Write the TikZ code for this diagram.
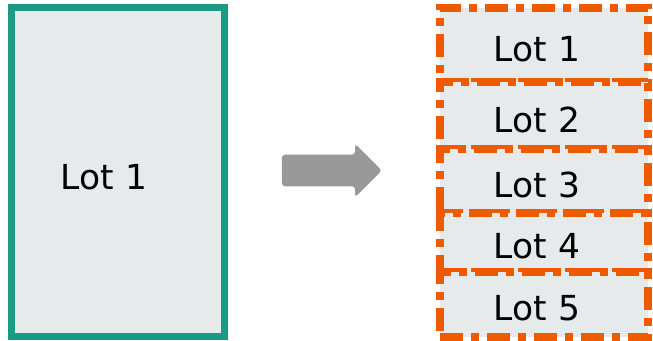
\documentclass[tikz,border=0pt]{standalone}
\usepackage{fontspec}
\setmainfont{DejaVu Sans}
\usetikzlibrary{shapes.arrows}
\definecolor{lotgreen}{HTML}{1A9B86}
\definecolor{lotorange}{HTML}{EE5A00}
\definecolor{lotfill}{HTML}{E7EAEB}
\definecolor{arrowgray}{HTML}{999999}
\begin{document}
\begin{tikzpicture}[
    wholelot/.style={rectangle, draw=lotgreen, fill=lotfill, line width=0.175cm, minimum width=5.325cm, minimum height=8.225cm, inner sep=0pt},
    partlot/.style={rectangle, draw=lotorange, fill=lotfill, line width=0.2cm, dash pattern=on 0.575cm off 0.2cm on 0.2cm off 0.2cm, minimum width=5.2cm, inner sep=0pt},
    lottext/.style={font=\fontsize{24.5}{30}\selectfont, inner sep=0pt},
    bigarrow/.style={single arrow, fill=arrowgray, draw=none, rounded corners=0.08cm, minimum height=2.5cm, inner xsep=0pt, inner ysep=0.3875cm, single arrow head extend=0.275cm}
]
    \useasboundingbox (0,0) rectangle (16.325,8.525);

    % Gesamtlos
    \node[wholelot] (whole) at (2.95,4.2125) {};
    \node[lottext] (wholetext) at (2.6,4.0875) {Lot 1};

    % Pfeil
    \node[bigarrow] (split) at (8.1,4.2625) {};

    % Teillose
    \node[partlot, minimum height=1.8625cm] (lot1) at (13.6,7.39375) {};
    \node[partlot, minimum height=1.675cm] (lot2) at (13.6,5.625) {};
    \node[partlot, minimum height=1.5875cm] (lot3) at (13.6,3.99375) {};
    \node[partlot, minimum height=1.475cm] (lot4) at (13.6,2.4625) {};
    \node[partlot, minimum height=1.625cm] (lot5) at (13.6,0.9125) {};

    \node[lottext, xshift=-0.175cm, yshift=-0.1cm] (lot1text) at (lot1) {Lot 1};
    \node[lottext, xshift=-0.175cm, yshift=-0.1cm] (lot2text) at (lot2) {Lot 2};
    \node[lottext, xshift=-0.175cm, yshift=-0.1cm] (lot3text) at (lot3) {Lot 3};
    \node[lottext, xshift=-0.175cm, yshift=-0.1cm] (lot4text) at (lot4) {Lot 4};
    \node[lottext, xshift=-0.175cm, yshift=-0.1cm] (lot5text) at (lot5) {Lot 5};
\end{tikzpicture}
\end{document}
